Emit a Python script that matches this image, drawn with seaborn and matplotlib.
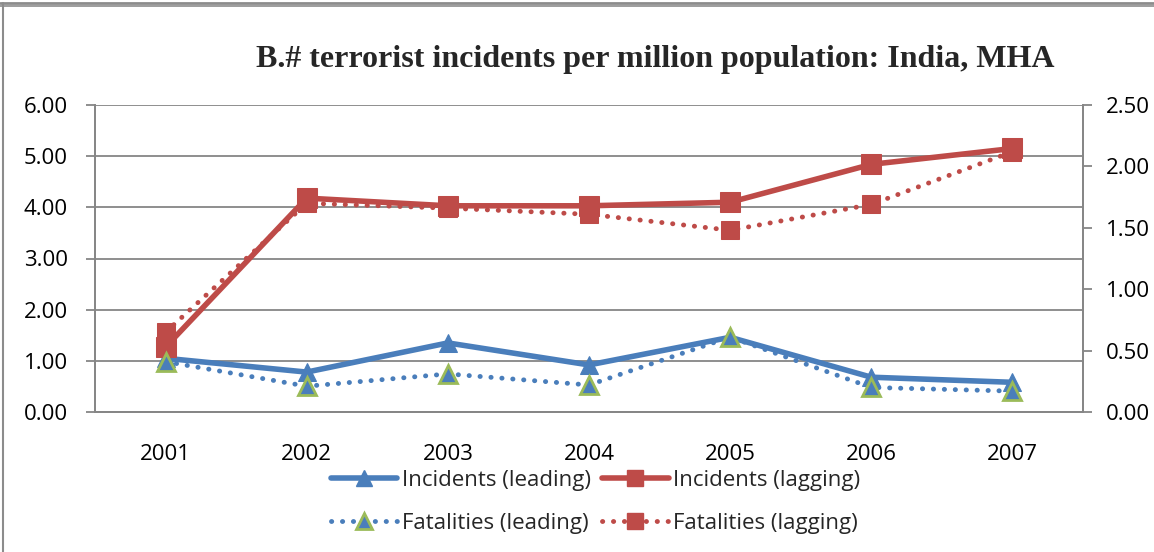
import matplotlib
matplotlib.use("Agg")
import matplotlib.pyplot as plt
from matplotlib.lines import Line2D
import seaborn as sns
import numpy as np

years = ["2001", "2002", "2003", "2004", "2005", "2006", "2007"]

# left axis series
incidents_leading = [1.05, 0.78, 1.35, 0.92, 1.46, 0.68, 0.58]
incidents_lagging = [1.27, 4.18, 4.03, 4.03, 4.10, 4.84, 5.15]
# right axis series
fatalities_leading = [0.41, 0.21, 0.31, 0.22, 0.61, 0.20, 0.17]
fatalities_lagging = [0.65, 1.70, 1.66, 1.61, 1.48, 1.69, 2.12]

left_ticks = [0, 1, 2, 3, 4, 5, 6]
right_ticks = [0, 0.5, 1.0, 1.5, 2.0, 2.5]

BLUE = "#4a7ebb"
RED = "#be4b48"
GREEN = "#9bbb59"
GRID = "#868686"
DOTS = (0, (0.05, 2.2))

sns.set_theme(style="white")
plt.rcParams["font.family"] = ["Open Sans", "DejaVu Sans"]

fig = plt.figure(figsize=(11.54, 5.52), dpi=100)
ax = fig.add_axes([95 / 1154, 1 - 412 / 552, (1083 - 95) / 1154, (412 - 105) / 552])
ax2 = ax.twinx()

x = np.arange(len(years))

sns.lineplot(x=x, y=incidents_leading, ax=ax, color=BLUE, linewidth=4,
             marker="^", markersize=13, markeredgecolor=BLUE,
             markerfacecolor=BLUE, zorder=3)
sns.lineplot(x=x, y=incidents_lagging, ax=ax, color=RED, linewidth=4,
             marker="s", markersize=14, markeredgecolor=RED,
             markerfacecolor=RED, zorder=3)
sns.lineplot(x=x, y=fatalities_leading, ax=ax2, color=BLUE, linewidth=3.5,
             linestyle=DOTS, dash_capstyle="round",
             marker="^", markersize=13, markeredgecolor=GREEN,
             markeredgewidth=2, markerfacecolor=BLUE, zorder=3)
sns.lineplot(x=x, y=fatalities_lagging, ax=ax2, color=RED, linewidth=3.5,
             linestyle=DOTS, dash_capstyle="round",
             marker="s", markersize=13.5, markeredgecolor=RED,
             markerfacecolor=RED, zorder=3)

ax.set_xlim(-0.5, len(years) - 0.5)
ax.set_ylim(0, 6)
ax2.set_ylim(0, 2.5)
ax.set_yticks(left_ticks)
ax.set_yticklabels([f"{v:.2f}" for v in left_ticks])
ax2.set_yticks(right_ticks)
ax2.set_yticklabels([f"{v:.2f}" for v in right_ticks])

ax.set_xticks(x)
ax.set_xticklabels(years)
ax.set_xticks(np.arange(len(years) + 1) - 0.5, minor=True)

ax.grid(axis="y", color=GRID, linewidth=1.3)
ax.set_axisbelow(True)

for a in (ax, ax2):
    a.spines["top"].set_visible(False)
    for side in ("left", "right", "bottom"):
        a.spines[side].set_color(GRID)
        a.spines[side].set_linewidth(1.3)

ax.tick_params(axis="x", which="major", length=0, labelsize=16, pad=23, colors="black")
ax.tick_params(axis="x", which="minor", length=7, width=1.3, color=GRID, direction="out")
ax.tick_params(axis="y", length=6.5, width=1.3, color=GRID, labelsize=16, pad=13,
               labelcolor="black", direction="out")
ax2.tick_params(axis="y", length=6.5, width=1.3, color=GRID, labelsize=16, pad=10,
                labelcolor="black", direction="out")
ax.set_xlabel("")
ax.set_ylabel("")
ax2.set_ylabel("")

fig.text(0.568, 1 - 60 / 552, "B.# terrorist incidents per million population: India, MHA",
         ha="center", va="center", fontsize=23, fontweight="bold",
         family="Liberation Serif")

handles = [
    Line2D([], [], color=BLUE, linewidth=4, marker="^", markersize=12,
           markerfacecolor=BLUE, markeredgecolor=BLUE),
    Line2D([], [], color=BLUE, linewidth=3.5, linestyle=DOTS,
           dash_capstyle="round", marker="^", markersize=12,
           markerfacecolor=BLUE, markeredgecolor=GREEN, markeredgewidth=2),
    Line2D([], [], color=RED, linewidth=4, marker="s", markersize=12,
           markerfacecolor=RED, markeredgecolor=RED),
    Line2D([], [], color=RED, linewidth=3.5, linestyle=DOTS,
           dash_capstyle="round", marker="s", markersize=12,
           markerfacecolor=RED, markeredgecolor=RED),
]
labels = ["Incidents (leading)", "Fatalities (leading)",
          "Incidents (lagging)", "Fatalities (lagging)"]
fig.legend(handles, labels, ncol=2, loc="center", bbox_to_anchor=(0.516, 1 - 502 / 552),
           frameon=False, fontsize=16, handlelength=3.0, handletextpad=0.2,
           columnspacing=0.5, labelspacing=1.0)

# outer chart frame
fig.add_artist(Line2D([0.003, 0.003], [0, 0.995], transform=fig.transFigure,
                      color="#8c8c8c", linewidth=1.5))
fig.add_artist(Line2D([0, 1], [0.995, 0.995], transform=fig.transFigure,
                      color="#8c8c8c", linewidth=2))
fig.add_artist(Line2D([0, 1], [0.989, 0.989], transform=fig.transFigure,
                      color="#8c8c8c", linewidth=1.2))

fig.savefig("out.png", dpi=100, facecolor="white")
